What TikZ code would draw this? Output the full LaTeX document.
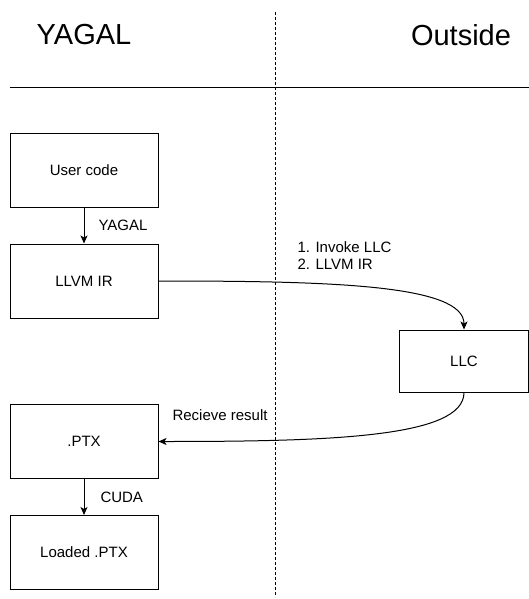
\documentclass[tikz,border=0pt]{standalone}
\usepackage{fontspec}
\setmainfont{Liberation Sans}
\usepackage{tikz}
\usetikzlibrary{arrows.meta}

\begin{document}
\begin{tikzpicture}[->,>={Stealth[length=8pt,width=7pt,inset=2pt]},x=1pt,y=-1pt,line width=1pt,
    box/.style={draw, rectangle, minimum width=148, minimum height=74, font=\fontsize{15}{17}\selectfont},
    lbl/.style={anchor=west, inner sep=0, font=\fontsize{15}{17}\selectfont}]
      \useasboundingbox (0, 0) rectangle (529, 599);

      % Headings and separators
        \node[font=\fontsize{29}{32}\selectfont, inner sep=0] (left) at (84, 35) {YAGAL};
        \node[font=\fontsize{29}{32}\selectfont, inner sep=0] (right) at (461, 35) {Outside};
        \coordinate (ha) at (10, 88);
        \coordinate (hb) at (529, 88);
        \coordinate (va) at (275, 12);
        \coordinate (vb) at (275, 597);
        \draw [-] (ha) -- (hb);
        \draw [-, dash pattern=on 3pt off 2pt] (va) -- (vb);

      % YAGAL side
        \node[box] (usercode) at (84, 170) {User code};
        \node[box] (llvmir) at (84, 281) {LLVM IR};
        \node[box] (ptx) at (84, 441.5) {.PTX};
        \node[box] (loaded) at (84, 552.5) {Loaded .PTX};

      % Outside
        \node[box, minimum width=129, minimum height=62] (llc) at (464, 361) {LLC};

        \draw [->] (usercode) -- (llvmir) node[lbl, midway, xshift=14] {YAGAL};
        \draw [->] (ptx) -- (loaded) node[lbl, midway, xshift=16] {CUDA};
        \draw [->] (llvmir.east) .. controls +(172, 0) and +(0, -45) .. (llc.north);
        \draw [->] (llc.south) .. controls +(0, 45) and +(172, 0) .. (ptx.east);

        \node[lbl, align=left] (invoke) at (297, 255.5) {1. Invoke LLC\\2. LLVM IR};
        \node[lbl] (result) at (172, 415) {Recieve result};

    \end{tikzpicture}
\end{document}
